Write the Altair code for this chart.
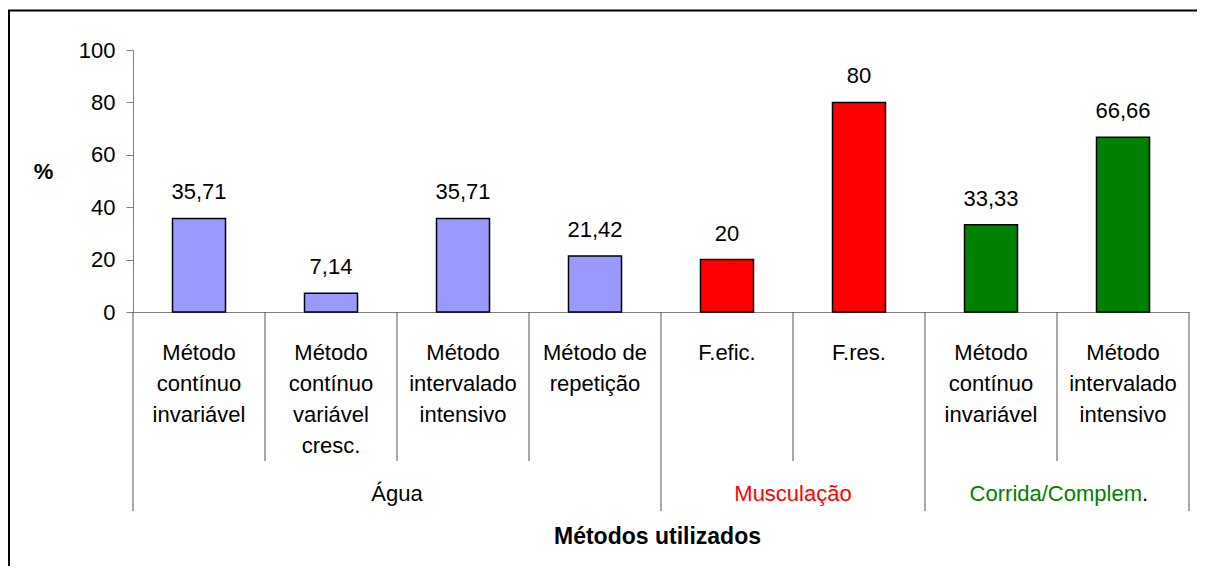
import altair as alt
import pandas as pd

# ---- data ----
categories = [
    "Método\ncontínuo\ninvariável",
    "Método\ncontínuo\nvariável\ncresc.",
    "Método\nintervalado\nintensivo",
    "Método de\nrepetição",
    "F.efic.",
    "F.res.",
    "Método\ncontínuo\ninvariável",
    "Método\nintervalado\nintensivo",
]
groups = ["Água", "Água", "Água", "Água", "Musculação", "Musculação",
          "Corrida/Complem.", "Corrida/Complem."]
values = [35.71, 7.14, 35.71, 21.42, 20, 80, 33.33, 66.66]
group_names = ["Água", "Musculação", "Corrida/Complem."]
bar_colors = ["#9999FF", "#FF0000", "#008000"]
text_colors = ["#000000", "#FF0000", "#008000"]
y_ticks = [0, 20, 40, 60, 80, 100]

df = pd.DataFrame({"idx": list(range(len(categories))), "label": categories,
                   "group": groups, "value": values})

# category boundaries (long at group boundaries)
n = len(categories)
div_rows = []
for i in range(n + 1):
    long = i == 0 or i == n or groups[i] != groups[i - 1]
    div_rows.append({"center": i, "kind": "long" if long else "short"})
div_df = pd.DataFrame(div_rows)

g = df.groupby("group", sort=False)["idx"].agg(["min", "max"]).reset_index()
g["center"] = (g["min"] + g["max"] + 1) / 2
g["tc"] = g["group"].map(dict(zip(group_names, text_colors)))
gdf = g[["group", "center", "tc"]]

W, H = 1056, 262
FONT = "Liberation Sans"
FS = 22

x_scale = alt.Scale(domain=[0, n], nice=False, zero=False, padding=0)
y_scale = alt.Scale(domain=[0, 100], nice=False, padding=0)

base = alt.Chart(df).transform_calculate(center="datum.idx + 0.5")

bars = base.mark_bar(width=53, stroke="black", strokeWidth=1.5).encode(
    x=alt.X("center:Q", scale=x_scale,
            axis=alt.Axis(labels=False, ticks=False, grid=False,
                          domainColor="#808080", domainWidth=1,
                          title="Métodos utilizados", titleFont=FONT,
                          titleFontSize=23, titleFontWeight="bold",
                          titleColor="black", titleX=524, titleY=231,
                          titleBaseline="alphabetic", titleAlign="center")),
    y=alt.Y("value:Q", scale=y_scale,
            axis=alt.Axis(values=y_ticks, grid=False, domainColor="#808080",
                          tickColor="#808080", tickSize=7, labelFont=FONT,
                          labelFontSize=FS, labelColor="black", labelPadding=11,
                          title="%", titleAngle=0, titleFont=FONT,
                          titleFontSize=FS, titleFontWeight="bold",
                          titleColor="black", titleX=-90, titleY=128,
                          titleAlign="center", titleBaseline="alphabetic")),
    color=alt.Color("group:N", scale=alt.Scale(domain=group_names, range=bar_colors),
                    legend=None),
)

vlabels = base.transform_calculate(
    txt="replace(toString(datum.value), '.', ',')"
).mark_text(dy=-19, baseline="alphabetic", align="center", font=FONT,
            fontSize=FS, color="black").encode(
    x=alt.X("center:Q", scale=x_scale),
    y=alt.Y("value:Q", scale=y_scale),
    text="txt:N",
)

catlabels = base.mark_text(lineBreak="\n", lineHeight=31, baseline="alphabetic",
                           align="center", font=FONT, fontSize=FS,
                           color="black").encode(
    x=alt.X("center:Q", scale=x_scale),
    y=alt.value(310),
    text="label:N",
)

divbase = alt.Chart(div_df)
div_short = divbase.transform_filter("datum.kind == 'short'").mark_rule(
    color="#555555", strokeWidth=1).encode(
    x=alt.X("center:Q", scale=x_scale),
    y=alt.value(H), y2=alt.value(411),
)
div_long = divbase.transform_filter("datum.kind == 'long'").mark_rule(
    color="#555555", strokeWidth=1).encode(
    x=alt.X("center:Q", scale=x_scale),
    y=alt.value(H), y2=alt.value(461),
)

gbase = alt.Chart(gdf)
glabels = gbase.transform_filter("datum.group != 'Corrida/Complem.'").mark_text(
    baseline="alphabetic", align="center", font=FONT, fontSize=FS).encode(
    x=alt.X("center:Q", scale=x_scale),
    y=alt.value(451),
    text="group:N",
    color=alt.Color("tc:N", scale=None),
)
glabel_green = gbase.transform_filter("datum.group == 'Corrida/Complem.'").transform_calculate(
    t="slice(datum.group, 0, length(datum.group) - 1)"
).mark_text(baseline="alphabetic", align="right", dx=85, font=FONT,
            fontSize=FS).encode(
    x=alt.X("center:Q", scale=x_scale),
    y=alt.value(451),
    text="t:N",
    color=alt.Color("tc:N", scale=None),
)
glabel_dot = gbase.transform_filter("datum.group == 'Corrida/Complem.'").transform_calculate(
    t="slice(datum.group, length(datum.group) - 1)"
).mark_text(baseline="alphabetic", align="left", dx=85, font=FONT,
            fontSize=FS, color="black").encode(
    x=alt.X("center:Q", scale=x_scale),
    y=alt.value(451),
    text="t:N",
)

border = alt.Chart(pd.DataFrame({"b": [0]})).mark_rect(
    fillOpacity=0, stroke="black", strokeWidth=2).encode(
    x=alt.value(-124), x2=alt.value(W + 100),
    y=alt.value(-39.5), y2=alt.value(H + 400),
)

chart = alt.layer(
    bars, border, vlabels, catlabels, div_short, div_long,
    glabels, glabel_green, glabel_dot,
).properties(
    width=W, height=H,
    padding={"left": 125, "top": 42, "right": 8, "bottom": 254},
    autosize=alt.AutoSizeParams(type="none"),
).configure_view(stroke=None)

chart.save("out.html", embed_options={"renderer": "svg", "actions": False})
